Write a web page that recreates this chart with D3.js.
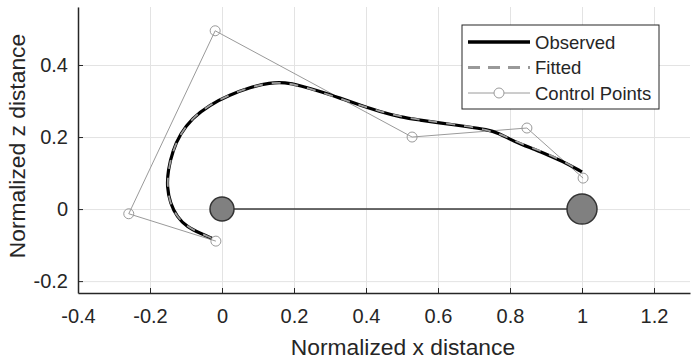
<!DOCTYPE html>
<html>
<head>
<meta charset="utf-8">
<script src="https://cdn.jsdelivr.net/npm/d3@7"></script>
<style>
  body { margin: 0; background: #fff; }
  text { font-family: "Liberation Sans", Arial, Helvetica, sans-serif; fill: #262626; }
</style>
</head>
<body>
<div id="container"></div>
<script>
// observed curve (normalized x, z)
let observedX = [-0.028, -0.061, -0.097, -0.125, -0.144, -0.153, -0.150, -0.137, -0.116, -0.083, -0.035, 0.022, 0.078, 0.133, 0.175, 0.217, 0.272, 0.328, 0.383, 0.439, 0.494, 0.550, 0.606, 0.681, 0.736, 0.770, 0.800, 0.830, 0.870, 0.903, 0.958, 1.000];
let observedZ = [-0.081, -0.067, -0.050, -0.022, 0.017, 0.061, 0.108, 0.162, 0.209, 0.252, 0.289, 0.317, 0.338, 0.351, 0.352, 0.343, 0.327, 0.308, 0.289, 0.270, 0.256, 0.247, 0.239, 0.229, 0.221, 0.210, 0.194, 0.180, 0.165, 0.151, 0.127, 0.103];

// fitted curve, nearly on top of the observed one
let fittedX = [-0.030, -0.063, -0.098, -0.126, -0.145, -0.152, -0.149, -0.136, -0.114, -0.081, -0.032, 0.025, 0.080, 0.135, 0.178, 0.220, 0.275, 0.330, 0.385, 0.440, 0.495, 0.550, 0.605, 0.680, 0.735, 0.772, 0.802, 0.832, 0.872, 0.905, 0.955, 0.995];
let fittedZ = [-0.080, -0.066, -0.048, -0.020, 0.018, 0.062, 0.110, 0.164, 0.211, 0.254, 0.291, 0.319, 0.339, 0.351, 0.351, 0.341, 0.325, 0.306, 0.288, 0.271, 0.257, 0.248, 0.240, 0.230, 0.220, 0.208, 0.195, 0.181, 0.166, 0.153, 0.129, 0.106];

// control points
let controlX = [-0.017, -0.259, -0.019, 0.528, 0.847, 1.003];
let controlZ = [-0.089, -0.013, 0.495, 0.200, 0.225, 0.086];

// the two joints and the segment between them
let jointX = [0, 1];
let jointZ = [0, 0];
let jointSize = [12, 15];

let xTicks = [-0.4, -0.2, 0, 0.2, 0.4, 0.6, 0.8, 1, 1.2];
let xTickLabels = ["-0.4", "-0.2", "0", "0.2", "0.4", "0.6", "0.8", "1", "1.2"];
let yTicks = [-0.2, 0, 0.2, 0.4];
let yTickLabels = ["-0.2", "0", "0.2", "0.4"];

let legendLabels = ["Observed", "Fitted", "Control Points"];

let w = 700;
let h = 360;
let padL = 78, padR = 690, padT = 7, padB = 293;

let viz = d3.select("#container")
  .append("svg")
    .attr("width", w)
    .attr("height", h)
    .style("background-color", "#fff")
;

let xScale = d3.scaleLinear().domain([-0.4, 1.3]).range([padL, padR]);
let yScale = d3.scaleLinear().domain([-0.233, 0.561]).range([padB, padT]);

// grid
let gridGroup = viz.append("g").attr("class", "grid");
gridGroup.append("g")
  .attr("transform", "translate(0," + padB + ")")
  .call(d3.axisBottom(xScale).tickValues(xTicks).tickSize(-(padB - padT)).tickFormat(""))
  .call(g => g.select(".domain").remove());
gridGroup.append("g")
  .attr("transform", "translate(" + padL + ",0)")
  .call(d3.axisLeft(yScale).tickValues(yTicks).tickSize(-(padR - padL)).tickFormat(""))
  .call(g => g.select(".domain").remove());
gridGroup.selectAll("line").attr("stroke", "#e3e3e3").attr("stroke-width", 1);

let pts = (xs, zs) => xs.map((x, i) => [x, zs[i]]);
let line = d3.line().x(d => xScale(d[0])).y(d => yScale(d[1]));
let smooth = d3.line().x(d => xScale(d[0])).y(d => yScale(d[1])).curve(d3.curveBasis);

// control polygon
viz.append("path")
  .datum(pts(controlX, controlZ))
  .attr("d", line)
  .attr("fill", "none")
  .attr("stroke", "#9a9a9a")
  .attr("stroke-width", 1);

// observed + fitted
viz.append("path")
  .datum(pts(observedX, observedZ))
  .attr("d", smooth)
  .attr("fill", "none")
  .attr("stroke", "#000")
  .attr("stroke-width", 3.2);

viz.append("path")
  .datum(pts(fittedX, fittedZ))
  .attr("d", smooth)
  .attr("fill", "none")
  .attr("stroke", "#9c9c9c")
  .attr("stroke-width", 1.8)
  .attr("stroke-dasharray", "9,9");

viz.selectAll(".ctrl").data(pts(controlX, controlZ)).enter()
  .append("circle")
    .attr("class", "ctrl")
    .attr("cx", d => xScale(d[0]))
    .attr("cy", d => yScale(d[1]))
    .attr("r", 5)
    .attr("fill", "none")
    .attr("stroke", "#9a9a9a")
    .attr("stroke-width", 1);

// segment between joints
viz.append("path")
  .datum(pts(jointX, jointZ))
  .attr("d", line)
  .attr("stroke", "#3a3a3a")
  .attr("stroke-width", 1.6);

viz.selectAll(".joint").data(jointX).enter()
  .append("circle")
    .attr("class", "joint")
    .attr("cx", d => xScale(d))
    .attr("cy", (d, i) => yScale(jointZ[i]))
    .attr("r", (d, i) => jointSize[i])
    .attr("fill", "#808080")
    .attr("stroke", "#333")
    .attr("stroke-width", 1.5);

// axes
let xAxisGroup = viz.append("g")
  .attr("transform", "translate(0," + padB + ")")
  .call(d3.axisBottom(xScale).tickValues(xTicks).tickSizeInner(-5).tickSizeOuter(0).tickPadding(16)
    .tickFormat((d, i) => xTickLabels[i]));
let yAxisGroup = viz.append("g")
  .attr("transform", "translate(" + padL + ",0)")
  .call(d3.axisLeft(yScale).tickValues(yTicks).tickSizeInner(-5).tickSizeOuter(0).tickPadding(10)
    .tickFormat((d, i) => yTickLabels[i]));
[xAxisGroup, yAxisGroup].forEach(g => {
  g.select(".domain").attr("stroke", "#262626").attr("stroke-width", 1.5);
  g.selectAll(".tick line").attr("stroke", "#262626").attr("stroke-width", 1);
  g.selectAll(".tick text").style("font-size", "20px").attr("fill", "#262626")
    .style("font-family", "'Liberation Sans', Arial, sans-serif");
});

viz.append("text")
  .attr("x", 403)
  .attr("y", 355)
  .attr("text-anchor", "middle")
  .style("font-size", "22.8px")
  .text("Normalized x distance");

viz.append("text")
  .attr("transform", "translate(25," + 146 + ") rotate(-90)")
  .attr("text-anchor", "middle")
  .style("font-size", "22.8px")
  .text("Normalized z distance");

// legend
let legend = viz.append("g").attr("class", "legend");
legend.append("rect")
  .attr("x", 462).attr("y", 25).attr("width", 197).attr("height", 84)
  .attr("fill", "#fff").attr("stroke", "#262626").attr("stroke-width", 1);

let rows = legend.selectAll(".row").data(legendLabels).enter()
  .append("g")
    .attr("class", "row")
    .attr("transform", (d, i) => "translate(468," + (42 + i * 25.5) + ")");

rows.append("line")
  .attr("x1", 0).attr("x2", 62).attr("y1", 0).attr("y2", 0)
  .attr("stroke", (d, i) => ["#000", "#999", "#9a9a9a"][i])
  .attr("stroke-width", (d, i) => [3.5, 3, 1][i])
  .attr("stroke-dasharray", (d, i) => i == 1 ? "12,8" : null);

rows.filter((d, i) => i == 2).append("circle")
  .attr("cx", 31).attr("cy", 0).attr("r", 5)
  .attr("fill", "#fff").attr("stroke", "#9a9a9a");

rows.append("text")
  .attr("x", 67)
  .attr("y", 6.5)
  .style("font-size", "18.5px")
  .text(d => d);
</script>
</body>
</html>
